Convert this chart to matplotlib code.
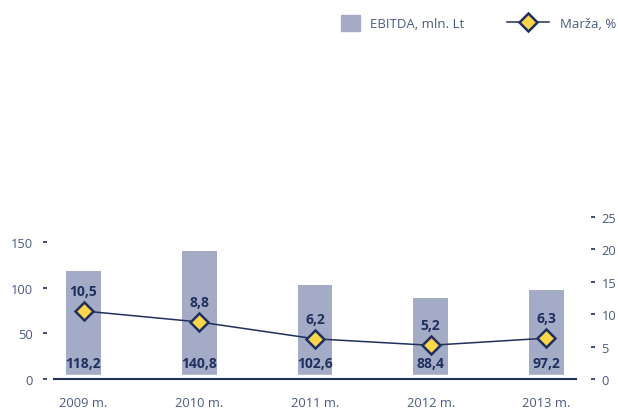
import matplotlib.pyplot as plt
from matplotlib.lines import Line2D
from matplotlib.patches import Patch

years = ["2009 m.", "2010 m.", "2011 m.", "2012 m.", "2013 m."]
ebitda = [118.2, 140.8, 102.6, 88.4, 97.2]
margin = [10.5, 8.8, 6.2, 5.2, 6.3]
ebitda_labels = ["118,2", "140,8", "102,6", "88,4", "97,2"]
margin_labels = ["10,5", "8,8", "6,2", "5,2", "6,3"]

navy = "#1f2f5e"
bar_col = "#a4abc7"
tick_col = "#4a5a82"
yellow = "#fbd54a"

plt.rcParams["font.family"] = ["Open Sans", "DejaVu Sans"]

fig = plt.figure(figsize=(6.18, 4.10), dpi=100)
ax = fig.add_axes([0.0874, 0.0732, 0.8446, 0.395])
ax2 = ax.twinx()

x = list(range(len(years)))
ax.bar(x, ebitda, width=0.30, color=bar_col, zorder=1)
# small white gap between bars and the base line, as in the original
ax.axhspan(0, 4.5, color="white", zorder=1.5)
ax.axhline(0, color=navy, lw=1.5, zorder=2, clip_on=False)
ax.set_xlim(-0.255, 4.255)
ax.set_ylim(0, 177.6)
ax.set_yticks([0, 50, 100, 150])
ax.set_xticks(x)
ax.set_xticklabels(years)

ax2.plot(x, margin, color=navy, lw=1.1, marker="D", markersize=9.5,
         markerfacecolor=yellow, markeredgecolor=navy, markeredgewidth=1.8, zorder=3)
ax2.set_ylim(0, 25)
ax2.set_yticks([0, 5, 10, 15, 20, 25])

for a in (ax, ax2):
    for s in ("top", "right", "left", "bottom"):
        a.spines[s].set_visible(False)
ax.spines["left"].set_position(("outward", 5.3))
ax2.spines["right"].set_position(("outward", 10.8))

ax.tick_params(axis="y", length=3, width=1.2, color=navy, labelcolor=tick_col,
               labelsize=9.3, pad=7)
ax.tick_params(axis="x", length=0, labelcolor=tick_col, labelsize=9.3, pad=12)
ax2.tick_params(axis="y", length=3, width=1.2, color=navy, labelcolor=tick_col,
                labelsize=9.3, pad=4.5)

for i in x:
    ax.annotate(ebitda_labels[i], (i, 0), xytext=(0, 16), textcoords="offset pixels",
                ha="center", va="center", fontsize=10, fontweight="bold", color=navy)
    ax2.annotate(margin_labels[i], (i, margin[i]), xytext=(0, 20), textcoords="offset pixels",
                 ha="center", va="center", fontsize=10, fontweight="bold", color=navy)

leg1 = fig.legend([Patch(color=bar_col)], ["EBITDA, mln. Lt"], loc="center left",
                  bbox_to_anchor=(341 / 618, 1 - 24 / 410), frameon=False, fontsize=9.5,
                  labelcolor=tick_col, handlelength=1.45, handleheight=1.45,
                  handletextpad=0.75, borderpad=0, borderaxespad=0)
leg2 = fig.legend([Line2D([], [], color=navy, lw=1.1, marker="D", markersize=9.5,
                          markerfacecolor=yellow, markeredgecolor=navy,
                          markeredgewidth=1.8)],
                  ["Marža, %"], loc="center left",
                  bbox_to_anchor=(507 / 618, 1 - 24 / 410), frameon=False, fontsize=9.5,
                  labelcolor=tick_col, handlelength=3.2, handletextpad=0.8,
                  borderpad=0, borderaxespad=0)

fig.savefig("out.png", dpi=100)
